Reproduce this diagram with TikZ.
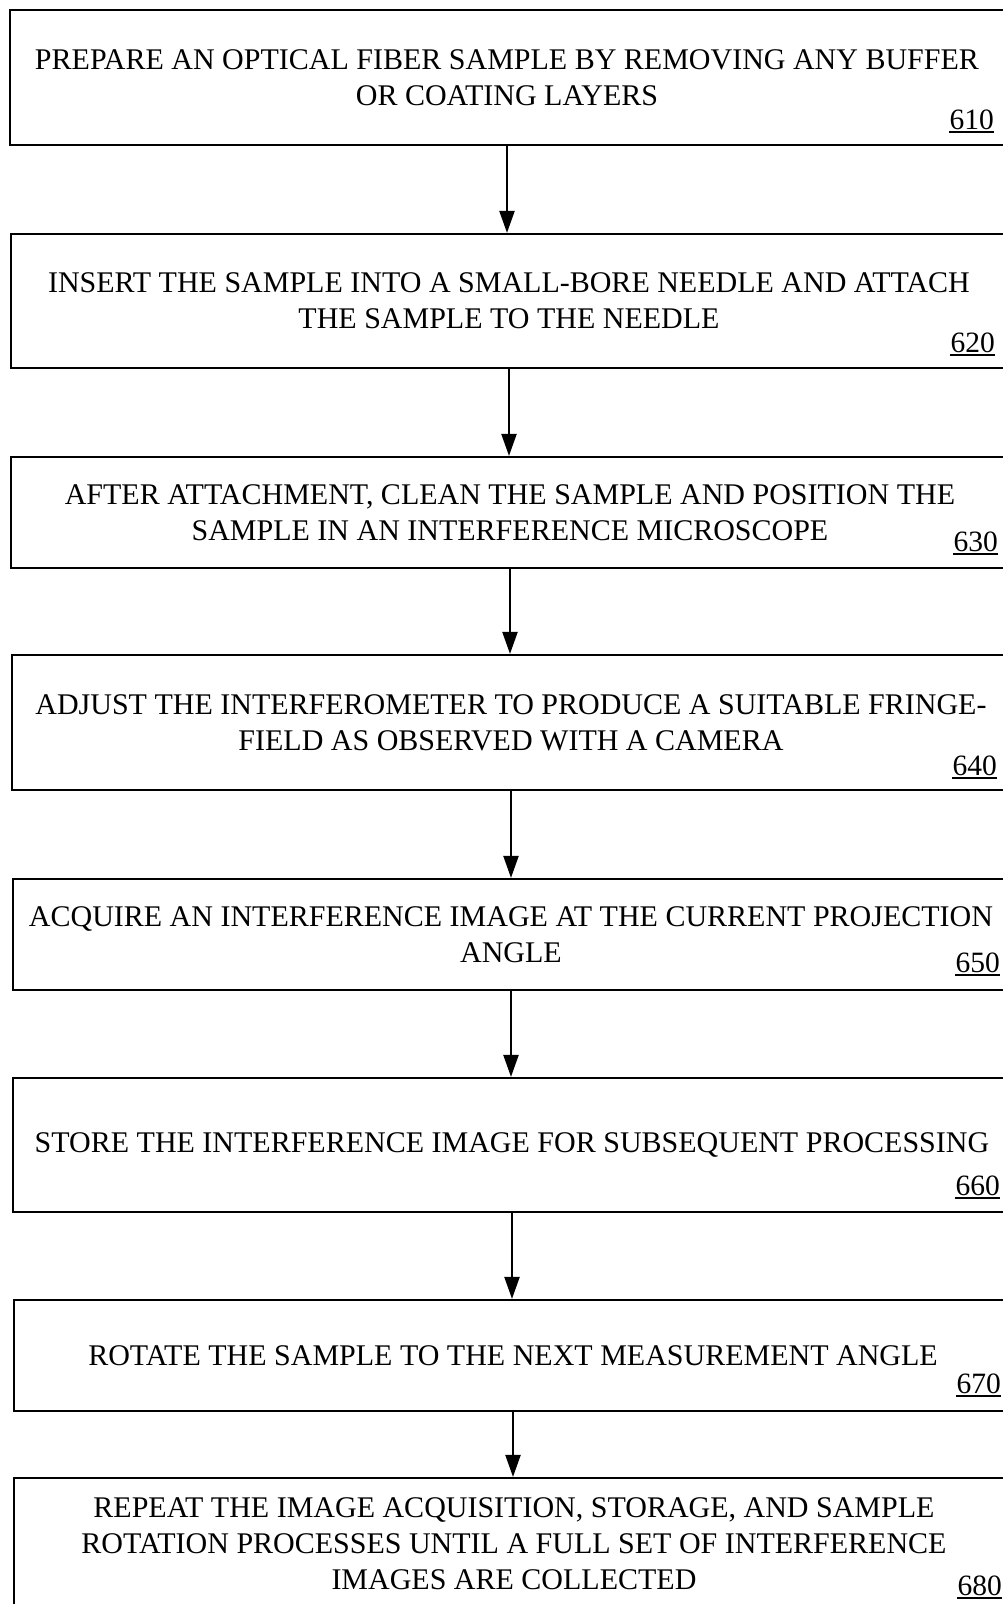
\documentclass[tikz,border=0pt]{standalone}
\usepackage{fontspec}
\setmainfont{Liberation Serif}
\usetikzlibrary{arrows.meta}
\begin{document}
\begin{tikzpicture}[x=1pt,y=-1pt,
  box/.style={draw, line width=2.2pt, rectangle, align=center, inner sep=0pt,
    font=\fontsize{30}{36}\selectfont},
  lbl/.style={font=\fontsize{29.5}{30}\selectfont, inner sep=0pt, anchor=base east},
  uline/.style={line width=1.4pt},
  arr/.style={line width=2.2pt, -{Triangle[width=15pt,length=22pt]}}]
\useasboundingbox (0,0) rectangle (1003,1604);
\clip (0,0) rectangle (1003,1604);

\node[box, minimum width=994pt, minimum height=135pt] (b1) at (507,77.5)
  {PREPARE AN OPTICAL FIBER SAMPLE BY REMOVING ANY BUFFER\\OR COATING LAYERS};
\node[box, minimum width=996pt, minimum height=134pt] (b2) at (509,301)
  {INSERT THE SAMPLE INTO A SMALL-BORE NEEDLE AND ATTACH\\THE SAMPLE TO THE NEEDLE};
\node[box, minimum width=998pt, minimum height=111pt] (b3) at (510,512.5)
  {AFTER ATTACHMENT, CLEAN THE SAMPLE AND POSITION THE\\SAMPLE IN AN INTERFERENCE MICROSCOPE};
\node[box, minimum width=998pt, minimum height=135pt] (b4) at (511,722.5)
  {ADJUST THE INTERFEROMETER TO PRODUCE A SUITABLE FRINGE-\\FIELD AS OBSERVED WITH A CAMERA};
\node[box, minimum width=996pt, minimum height=111pt] (b5) at (511,934.5)
  {ACQUIRE AN INTERFERENCE IMAGE AT THE CURRENT PROJECTION\\ANGLE};
\node[box, minimum width=998pt, minimum height=134pt] (b6) at (512,1145)
  {STORE THE INTERFERENCE IMAGE FOR SUBSEQUENT PROCESSING};
\node[box, minimum width=998pt, minimum height=111pt] (b7) at (513,1355.5)
  {ROTATE THE SAMPLE TO THE NEXT MEASUREMENT ANGLE};
\node[box, minimum width=1000pt, minimum height=132pt] (b8) at (514,1544)
  {REPEAT THE IMAGE ACQUISITION, STORAGE, AND SAMPLE\\ROTATION PROCESSES UNTIL A FULL SET OF INTERFERENCE\\IMAGES ARE COLLECTED};

\node[lbl] (l1) at (994,129) {610};
\node[lbl] (l2) at (995,352) {620};
\node[lbl] (l3) at (998,551) {630};
\node[lbl] (l4) at (997,775) {640};
\node[lbl] (l5) at (1000,972) {650};
\node[lbl] (l6) at (1000,1195) {660};
\node[lbl] (l7) at (1001,1393) {670};
\node[lbl] (l8) at (1002,1595) {680};
\foreach \i in {1,...,8}
  \draw[uline] ([yshift=-3pt]l\i.base west) -- ([yshift=-3pt]l\i.base east);

\foreach \a/\b in {b1/b2,b2/b3,b3/b4,b4/b5,b5/b6,b6/b7,b7/b8}
  \draw[arr] (\a.south) -- (\a.south |- \b.north);
\end{tikzpicture}
\end{document}
